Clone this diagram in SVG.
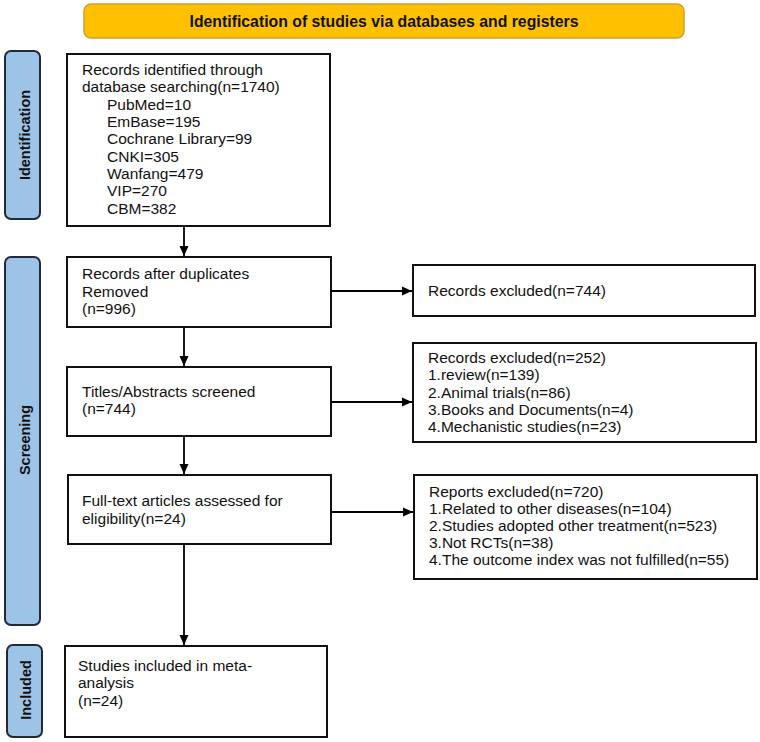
<svg xmlns="http://www.w3.org/2000/svg" width="760" height="742" viewBox="0 0 760 742">
<defs>
<marker id="ah" viewBox="0 0 10 10" refX="10" refY="5" markerWidth="10" markerHeight="10" markerUnits="userSpaceOnUse" orient="auto">
<path d="M0,0.5 L10,5 L0,9.5 z" fill="#000"/>
</marker>
<style>
.box{fill:#fff;stroke:#111;stroke-width:2}
.side{fill:#9dc3e6;stroke:#1f2a3a;stroke-width:2}
.t{font-family:"Liberation Sans",Arial,sans-serif;font-size:15.5px;fill:#111}
.sl{font-family:"Liberation Sans",Arial,sans-serif;font-size:14.5px;font-weight:bold;fill:#111;text-anchor:middle}
.ttl{font-family:"Liberation Sans",Arial,sans-serif;font-size:15.8px;font-weight:bold;fill:#111;text-anchor:middle}
.c{stroke:#000;stroke-width:1.8;fill:none;marker-end:url(#ah)}
</style>
</defs>
<rect width="760" height="742" fill="#fff"/>

<g id="title">
<rect x="84" y="4" width="600" height="34" rx="7" fill="#ffc000" stroke="#c9a233" stroke-width="1.5"/>
<text class="ttl" x="384" y="26.5">Identification of studies via databases and registers</text>
</g>

<g id="lbl-identification">
<rect class="side" x="5" y="51" width="35" height="168" rx="6"/>
<text class="sl" transform="translate(30,135) rotate(-90)">Identification</text>
</g>
<g id="lbl-screening">
<rect class="side" x="5" y="257" width="35" height="368" rx="6"/>
<text class="sl" transform="translate(29.5,440) rotate(-90)">Screening</text>
</g>
<g id="lbl-included">
<rect class="side" x="7" y="645" width="35" height="92" rx="6"/>
<text class="sl" transform="translate(31,690) rotate(-90)">Included</text>
</g>

<g id="n-identified">
<rect class="box" x="67" y="54" width="263" height="172"/>
<text class="t" x="82" y="75">Records identified through</text>
<text class="t" x="82" y="92.3">database searching(n=1740)</text>
<text class="t" x="107" y="109.6">PubMed=10</text>
<text class="t" x="107" y="127">EmBase=195</text>
<text class="t" x="107" y="144.3">Cochrane Library=99</text>
<text class="t" x="107" y="161.6">CNKI=305</text>
<text class="t" x="107" y="179">Wanfang=479</text>
<text class="t" x="107" y="196.3">VIP=270</text>
<text class="t" x="107" y="213.6">CBM=382</text>
</g>

<g id="n-dedup">
<rect class="box" x="67" y="257" width="264" height="70"/>
<text class="t" x="82" y="279">Records after duplicates</text>
<text class="t" x="82" y="296.5">Removed</text>
<text class="t" x="82" y="314">(n=996)</text>
</g>

<g id="n-excl744">
<rect class="box" x="413" y="265" width="342" height="51"/>
<text class="t" x="428" y="296">Records excluded(n=744)</text>
</g>

<g id="n-screened">
<rect class="box" x="67" y="367" width="264" height="69"/>
<text class="t" x="82" y="396.7">Titles/Abstracts screened</text>
<text class="t" x="82" y="414">(n=744)</text>
</g>

<g id="n-excl252">
<rect class="box" x="413" y="343" width="343" height="99"/>
<text class="t" x="428" y="363.3">Records excluded(n=252)</text>
<text class="t" x="428" y="380.3">1.review(n=139)</text>
<text class="t" x="428" y="397.6">2.Animal trials(n=86)</text>
<text class="t" x="428" y="415">3.Books and Documents(n=4)</text>
<text class="t" x="428" y="432.3">4.Mechanistic studies(n=23)</text>
</g>

<g id="n-fulltext">
<rect class="box" x="68" y="475" width="263" height="69"/>
<text class="t" x="82" y="506">Full-text articles assessed for</text>
<text class="t" x="82" y="523.5">eligibility(n=24)</text>
</g>

<g id="n-excl720">
<rect class="box" x="414" y="475" width="343" height="104"/>
<text class="t" x="429" y="496.7">Reports excluded(n=720)</text>
<text class="t" x="429" y="513.6">1.Related to other diseases(n=104)</text>
<text class="t" x="429" y="530.7">2.Studies adopted other treatment(n=523)</text>
<text class="t" x="429" y="547.8">3.Not RCTs(n=38)</text>
<text class="t" x="429" y="565">4.The outcome index was not fulfilled(n=55)</text>
</g>

<g id="n-included">
<rect class="box" x="65" y="646" width="262" height="91"/>
<text class="t" x="78" y="670.5">Studies included in meta-</text>
<text class="t" x="78" y="688">analysis</text>
<text class="t" x="78" y="705.5">(n=24)</text>
</g>

<g id="connectors">
<line class="c" x1="184" y1="226" x2="184" y2="256"/>
<line class="c" x1="184" y1="327" x2="184" y2="366"/>
<line class="c" x1="184" y1="436" x2="184" y2="474"/>
<line class="c" x1="184" y1="544" x2="184" y2="645"/>
<line class="c" x1="331" y1="291" x2="412" y2="291"/>
<line class="c" x1="331" y1="402" x2="412" y2="402"/>
<line class="c" x1="331" y1="512" x2="413" y2="512"/>
</g>
</svg>
